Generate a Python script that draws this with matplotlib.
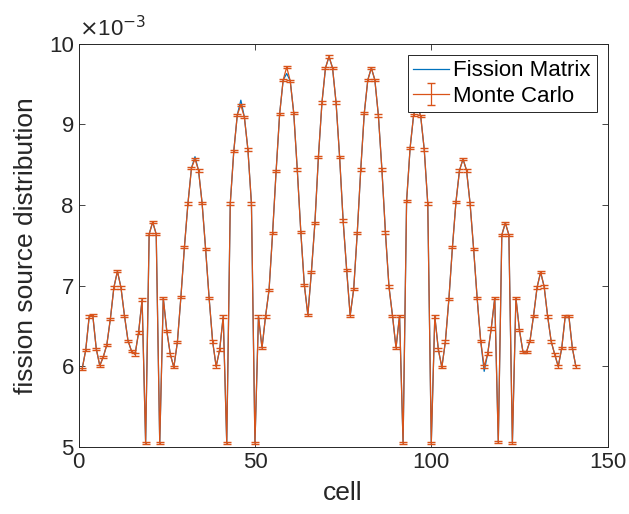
import numpy as np
import matplotlib
matplotlib.use('Agg')
import matplotlib.pyplot as plt

# cell index 1..141
cells = np.arange(1, 142)

# Monte Carlo fission source (units of 1e-3)
monte_carlo = [
    5.97, 6.20, 6.62, 6.64, 6.22, 6.01, 6.12, 6.27, 6.59, 6.98,
    7.18, 6.98, 6.63, 6.32, 6.19, 6.15, 6.42, 6.83, 5.05, 7.64,
    7.79, 7.64, 5.05, 6.85, 6.44, 6.15, 5.99, 6.30, 6.86, 7.48,
    8.02, 8.46, 8.57, 8.43, 8.03, 7.46, 6.85, 6.31, 6.00, 6.21,
    6.62, 5.05, 8.02, 8.67, 9.12, 9.24, 9.09, 8.69, 8.02, 5.05,
    6.62, 6.23, 6.62, 6.95, 7.65, 8.42, 9.13, 9.55, 9.71, 9.54,
    9.14, 8.44, 7.67, 7.01, 6.64, 7.17, 7.78, 8.60, 9.27, 9.70,
    9.84, 9.70, 9.27, 8.60, 7.81, 7.20, 6.63, 6.96, 7.65, 8.44,
    9.14, 9.55, 9.70, 9.55, 9.11, 8.44, 7.66, 6.99, 6.63, 6.23,
    6.63, 5.05, 8.05, 8.71, 9.12, 9.24, 9.10, 8.69, 8.02, 5.05,
    6.62, 6.21, 5.99, 6.31, 6.84, 7.48, 8.04, 8.43, 8.57, 8.43,
    8.02, 7.46, 6.85, 6.32, 6.00, 6.16, 6.47, 6.85, 5.06, 7.63,
    7.78, 7.63, 5.05, 6.85, 6.45, 6.18, 6.18, 6.32, 6.63, 6.98,
    7.17, 6.99, 6.62, 6.31, 6.15, 6.00, 6.23, 6.63, 6.63, 6.23,
    6.00,
]

# fission matrix result: same as MC except at a few peaks
fission_matrix = list(monte_carlo)
fm_changes = {33: 8.60, 46: 9.30, 59: 9.63, 115: 5.94}
for c, v in fm_changes.items():
    fission_matrix[c - 1] = v

mc_error = [0.014] * len(monte_carlo)

blue = '#0072BD'
orange = '#D95319'

plt.rcParams['font.family'] = ['Liberation Sans', 'DejaVu Sans']

fig = plt.figure(figsize=(6.29, 5.14), dpi=100)
ax = fig.add_axes([0.125, 0.13, 0.841, 0.785])

ax.plot(cells, fission_matrix, color=blue, lw=0.9, label='Fission Matrix')
ax.errorbar(cells, monte_carlo, yerr=mc_error, color=orange, lw=0.9,
            elinewidth=0.9, capsize=3.2, capthick=1.0, label='Monte Carlo')

ax.set_xlim(0, 150)
ax.set_ylim(5, 10)
ax.set_xticks([0, 50, 100, 150])
ax.set_yticks([5, 6, 7, 8, 9, 10])
ax.tick_params(direction='in', top=True, right=True, labelsize=16,
               length=4, width=0.6, colors='#262626')
for s in ax.spines.values():
    s.set_color('#262626')
    s.set_linewidth(0.7)

ax.set_xlabel('cell', fontsize=19, color='#262626', labelpad=6)
ax.set_ylabel('fission source distribution', fontsize=19, color='#262626', labelpad=8)
ax.text(0.0, 1.005, r'$\times$10$^{-3}$', transform=ax.transAxes, fontsize=16,
        color='#262626', ha='left', va='bottom')

leg = ax.legend(loc='upper right', fontsize=16, frameon=True, fancybox=False,
                framealpha=1.0, borderaxespad=0.5, handlelength=1.6,
                handletextpad=0.2, borderpad=0.25, labelspacing=0.2)
leg.get_frame().set_edgecolor('#262626')
leg.get_frame().set_linewidth(0.7)

fig.savefig('out.png', dpi=100)
